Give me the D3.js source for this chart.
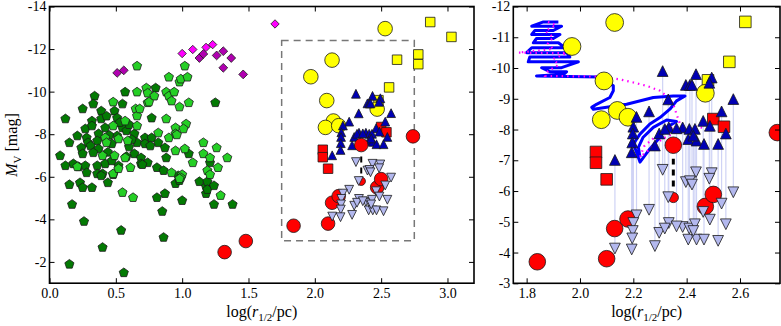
<!DOCTYPE html>
<html>
<head>
<meta charset="utf-8">
<script src="https://cdn.jsdelivr.net/npm/d3@7"></script>
<style>
  body { margin: 0; background: #fff; }
  svg text { font-family: "Liberation Serif", "DejaVu Serif", serif; }
</style>
</head>
<body>
<div id="chart"></div>
<script>
// ---- data: [log r_1/2, M_V] ----
const greenDark = [
  [0.12,-8.72],[0.34,-9.79],[0.57,-9.98],[0.80,-10.17],[0.55,-9.42],[0.25,-9.19],[0.39,-9.09],[0.49,-9.09],
  [0.32,-8.62],[0.39,-8.72],[0.51,-8.76],[0.77,-8.76],[0.27,-8.25],[0.32,-8.39],[0.42,-8.30],[0.55,-8.30],
  [0.21,-7.92],[0.28,-7.83],[0.37,-8.02],[0.51,-7.92],[0.58,-8.16],[0.64,-8.02],[0.72,-7.83],[0.77,-7.83],
  [0.82,-7.60],[0.15,-7.60],[0.29,-7.60],[0.36,-7.69],[0.66,-7.60],[0.72,-7.55],[0.76,-7.45],[0.87,-7.36],
  [0.08,-6.99],[0.24,-7.36],[0.31,-7.45],[0.37,-7.31],[0.64,-7.08],[0.69,-6.89],[0.25,-7.08],[0.33,-7.13],
  [0.12,-6.52],[0.18,-6.61],[0.22,-6.47],[0.27,-6.52],[0.36,-6.52],[0.42,-6.61],[0.52,-6.52],[0.69,-6.61],
  [0.74,-6.66],[0.81,-6.43],[0.86,-6.29],[0.28,-6.19],[0.36,-6.14],[0.40,-6.14],[0.97,-6.05],[0.15,-5.63],
  [0.23,-5.72],[0.25,-5.49],[0.32,-5.49],[0.44,-5.72],[0.87,-5.21],[0.39,-6.05],[0.48,-6.10],[0.70,-6.57],
  [1.13,-5.77],[0.81,-5.02],[0.95,-5.68],[0.98,-5.82],[1.00,-4.88],[1.18,-5.54],[1.19,-5.77],[1.18,-5.21],
  [1.19,-5.40],[1.24,-5.58],[0.17,-4.70],[0.85,-4.37],[1.24,-4.70],[1.38,-4.70],[0.26,-3.90],[0.54,-3.48],
  [0.86,-3.15],[0.40,-2.68],[0.15,-1.89],[0.56,-1.49],[1.25,-9.48],[0.88,-6.89],[1.05,-7.08],[1.21,-6.66],
  [0.33,-9.42],[0.45,-7.95],[0.47,-7.55],[0.60,-7.40],[0.44,-7.15],[0.58,-6.95],[0.62,-7.75],[0.53,-8.55],
  [0.60,-8.45],[0.43,-8.85],[0.47,-6.75]
];
const greenLight = [
  [0.66,-11.20],[0.73,-10.17],[0.66,-9.98],[0.74,-9.93],[0.79,-9.79],[0.88,-9.98],[0.90,-9.79],[0.94,-9.98],
  [0.90,-10.68],[0.98,-10.45],[0.99,-10.59],[1.04,-10.68],[1.02,-11.20],[1.05,-9.48],[0.98,-9.28],[0.74,-9.48],
  [0.65,-9.19],[0.66,-8.86],[0.66,-8.39],[0.88,-8.72],[1.03,-8.48],[0.95,-8.30],[1.01,-8.25],[0.82,-8.06],
  [0.90,-7.83],[1.16,-7.60],[1.26,-7.36],[1.02,-7.31],[1.16,-7.08],[1.34,-6.89],[1.21,-6.89],[1.08,-6.66],
  [0.48,-8.39],[0.48,-9.51],[0.68,-9.19],[0.75,-9.51],[0.92,-9.56],[0.57,-8.62],[0.95,-8.02],[0.42,-7.83],
  [0.43,-7.60],[0.52,-7.78],[0.59,-7.69],[0.95,-7.22],[0.40,-6.99],[0.49,-6.99],[0.57,-6.89],[0.61,-6.43],
  [0.92,-6.19],[0.48,-6.14],[0.55,-5.26],[0.21,-6.47],[0.52,-6.38],[1.00,-6.10],[1.19,-6.29],[1.21,-6.10],
  [1.27,-6.43],[0.63,-5.02],[0.99,-5.96],[1.29,-5.12],[0.96,-7.97],[0.98,-5.91]
];
const magentaBright = [[1.00,-11.79],[1.08,-11.98],[1.18,-12.08],[1.23,-12.21],[1.70,-13.18]];
const magentaDark = [[0.51,-10.88],[0.56,-11.00],[1.13,-11.58],[1.16,-11.77],[1.26,-11.70],
  [1.31,-11.90],[1.31,-11.12],[1.37,-11.58],[1.46,-10.81]];
const yellowCircles = [[2.53,-12.96],[2.13,-11.48],[1.97,-10.70],[2.09,-9.58],[2.47,-9.18],
  [2.14,-8.62],[2.08,-8.32],[2.18,-8.40]];
const yellowSquares = [[2.87,-13.27],[3.03,-12.57],[2.78,-11.75],[2.78,-11.29],[2.62,-11.50],
  [2.56,-10.20],[2.48,-9.60]];
const redSquares = [[2.06,-7.27],[2.06,-6.92],[2.10,-6.38],[2.50,-8.34],[2.54,-8.09]];
const redCircles = [[1.32,-2.46],[1.48,-2.98],[1.84,-3.70],[2.10,-3.80],[2.13,-4.78],[2.18,-5.09],
  [2.47,-5.50],[2.50,-5.89],[2.35,-7.49],[2.74,-7.90]];
const redSmall = [[2.35,-5.79]];
// [log r, M_V bright (up triangle), M_V faint (down triangle)]
const trianglePairs = [
  [2.310,-9.90,-6.69],[2.435,-9.80,-6.61],[2.397,-9.45,-6.29],[2.412,-9.45,-6.32],[2.420,-9.45,-6.21],
  [2.494,-9.69,-6.58],[2.485,-9.52,-6.40],[2.331,-8.98,-5.80],[2.575,-8.99,-5.96],[2.259,-8.59,-5.39],
  [2.531,-8.59,-5.59],[2.212,-8.41,-5.21],[2.462,-8.28,-5.32],[2.200,-8.09,-4.96],[2.487,-8.12,-5.07],
  [2.198,-7.87,-4.70],[2.297,-7.87,-4.64],[2.333,-8.07,-4.96],[2.318,-8.02,-4.78],[2.385,-8.07,-4.83],
  [2.410,-8.02,-4.78],[2.431,-8.02,-4.92],[2.547,-7.87,-4.92],[2.196,-7.58,-4.46],[2.406,-7.69,-4.42],
  [2.437,-7.64,-4.42],[2.465,-7.53,-4.42],[2.518,-7.53,-4.38],[2.281,-7.48,-4.21],[2.194,-7.26,-4.10],
  [2.131,-7.01,-4.13],[2.425,-7.80,-4.70],[2.362,-8.04,-4.85]
];
const blueTrack = [
  [1.919,-11.50],[1.863,-11.50],[1.819,-11.36],[1.931,-11.36],[1.900,-11.22],[1.831,-11.22],
  [1.819,-11.09],[1.925,-11.09],[1.900,-10.96],[1.837,-10.96],[1.825,-10.82],[1.919,-10.82],
  [1.944,-10.66],[1.819,-10.66],[1.800,-10.50],[1.950,-10.50],[1.962,-10.36],[1.812,-10.36],
  [1.806,-10.20],[1.994,-10.20],[1.931,-10.01],[1.856,-10.01],[1.887,-9.88],[1.950,-9.88],
  [1.940,-9.80],[1.837,-9.74],[2.075,-9.71],[2.125,-9.42],[2.125,-9.26],[2.112,-9.04],
  [2.062,-8.82],[2.044,-8.72],[2.050,-8.66],[2.175,-8.82],[2.275,-9.04],[2.350,-9.09],
  [2.394,-9.09],[2.362,-8.93],[2.337,-8.66],[2.300,-8.39],[2.262,-8.18],[2.225,-7.85],
  [2.200,-7.53],[2.212,-7.26],[2.225,-6.94],[2.262,-7.37],[2.300,-7.75],[2.325,-8.07],
  [2.362,-8.26],[2.325,-8.31],[2.275,-8.07],[2.237,-7.75],[2.219,-7.42],[2.225,-7.10]
];
const pinkTrack = [
  [1.880,-11.50],[1.910,-11.40],[1.870,-11.20],[1.900,-11.00],[1.880,-10.80],[1.900,-10.62],
  [1.769,-10.50],[1.950,-10.48],[1.900,-10.30],[1.920,-10.10],[1.880,-9.90],[1.870,-9.74],
  [2.075,-9.72],[2.150,-9.63],[2.200,-9.53],[2.250,-9.42],[2.300,-9.26],[2.331,-9.04],
  [2.350,-8.82],[2.362,-8.50],[2.375,-8.18],[2.330,-8.00],[2.280,-7.75],[2.240,-7.45],
  [2.225,-7.10],[2.260,-7.35],[2.310,-7.70],[2.370,-7.95],[2.440,-8.10],[2.480,-8.00]
];
const blackSegment = [[2.35,-6.15],[2.35,-7.05]];
const zoomBox = { x: [1.75, 2.75], m: [-3, -12.4] };

const leftXTicks = [0, 0.5, 1, 1.5, 2, 2.5, 3];
const leftYTicks = [-14, -12, -10, -8, -6, -4, -2];
const rightXTicks = [1.8, 2.0, 2.2, 2.4, 2.6];
const rightYTicks = [-12, -11, -10, -9, -8, -7, -6, -5, -4, -3];

// ---- symbols ----
const pentagon = { draw(ctx, size) {
  const r = Math.sqrt(size / 2.3776);
  for (let i = 0; i < 5; i++) {
    const a = -Math.PI / 2 + i * 2 * Math.PI / 5;
    i ? ctx.lineTo(r * Math.cos(a), r * Math.sin(a)) : ctx.moveTo(r * Math.cos(a), r * Math.sin(a));
  }
  ctx.closePath();
}};
const triUp = { draw(ctx, size) {
  const h = Math.sqrt(size * 2) / 2;
  ctx.moveTo(0, -h); ctx.lineTo(h, h); ctx.lineTo(-h, h); ctx.closePath();
}};
const triDown = { draw(ctx, size) {
  const h = Math.sqrt(size * 2) / 2;
  ctx.moveTo(0, h); ctx.lineTo(h, -h); ctx.lineTo(-h, -h); ctx.closePath();
}};
const diamond = { draw(ctx, size) {
  const h = Math.sqrt(size / 2);
  ctx.moveTo(0, -h); ctx.lineTo(h, 0); ctx.lineTo(0, h); ctx.lineTo(-h, 0); ctx.closePath();
}};

const W = 781, H = 326;
const svg = d3.select('#chart').append('svg').attr('width', W).attr('height', H);

function plot(g, data, x, y, sym, area, fill, stroke = '#1a1a1a', sw = 0.8) {
  g.append('g').selectAll('path').data(data).join('path')
    .attr('transform', (d) => `translate(${x(d[0])},${y(d[1])})`)
    .attr('d', d3.symbol().type(sym).size(area))
    .attr('fill', fill).attr('stroke', stroke).attr('stroke-width', sw);
}

function axes(p, x, y) {
  const style = (s) => {
    s.select('.domain').remove();
    s.attr('font-family', '"Liberation Serif", "DejaVu Serif", serif').attr('font-size', 14);
    s.selectAll('line').attr('stroke', '#000').attr('stroke-width', 1);
    s.selectAll('text').attr('fill', '#000');
  };
  svg.append('g').attr('transform', `translate(0,${p.bottom})`)
    .call(d3.axisBottom(x).tickValues(p.xt).tickSizeInner(-5).tickSizeOuter(0).tickPadding(4.5)
      .tickFormat((d) => d.toFixed(1))).call(style);
  svg.append('g').attr('transform', `translate(0,${p.top})`)
    .call(d3.axisTop(x).tickValues(p.xt).tickSizeInner(-5).tickSizeOuter(0).tickFormat('')).call(style);
  svg.append('g').attr('transform', `translate(${p.left},0)`)
    .call(d3.axisLeft(y).tickValues(p.yt).tickSizeInner(-5).tickSizeOuter(0).tickPadding(3)
      .tickFormat((d) => String(d))).call(style);
  svg.append('g').attr('transform', `translate(${p.right},0)`)
    .call(d3.axisRight(y).tickValues(p.yt).tickSizeInner(-5).tickSizeOuter(0).tickFormat('')).call(style);
  svg.append('rect').attr('x', p.left).attr('y', p.top)
    .attr('width', p.right - p.left).attr('height', p.bottom - p.top)
    .attr('fill', 'none').attr('stroke', '#000').attr('stroke-width', 1.6);

  const xl = svg.append('text').attr('x', (p.left + p.right) / 2).attr('y', 317)
    .attr('text-anchor', 'middle').attr('font-size', 16);
  xl.append('tspan').text('log(');
  xl.append('tspan').attr('font-style', 'italic').text('r');
  xl.append('tspan').attr('dy', 4).attr('font-size', 11).text('1/2');
  xl.append('tspan').attr('dy', -4).text('/pc)');
}

function panel(p) {
  const x = d3.scaleLinear().domain(p.xd).range([p.left, p.right]);
  const y = d3.scaleLinear().domain(p.yd).range([p.bottom, p.top]);
  svg.append('clipPath').attr('id', 'clip-' + p.id).append('rect')
    .attr('x', p.left).attr('y', p.top).attr('width', p.right - p.left).attr('height', p.bottom - p.top);
  const g = svg.append('g').attr('clip-path', `url(#clip-${p.id})`);
  const k = p.k;

  if (p.id === 'right') {
    g.append('g').selectAll('line').data(trianglePairs).join('line')
      .attr('x1', (d) => x(d[0])).attr('x2', (d) => x(d[0]))
      .attr('y1', (d) => y(d[1])).attr('y2', (d) => y(d[2]))
      .attr('stroke', '#cfd3f5').attr('stroke-width', 1.2);
    const line = d3.line().x((d) => x(d[0])).y((d) => y(d[1]));
    g.append('path').attr('d', line(blueTrack)).attr('fill', 'none')
      .attr('stroke', '#0000ff').attr('stroke-width', 3).attr('stroke-linejoin', 'round');
    g.append('path').attr('d', line(pinkTrack)).attr('fill', 'none')
      .attr('stroke', '#ff00ff').attr('stroke-width', 2.2).attr('stroke-dasharray', '1.5,4');
  } else {
    plot(g, greenDark, x, y, pentagon, 2.3776 * 4.8 * 4.8, '#037a03');
    plot(g, greenLight, x, y, pentagon, 2.3776 * 4.8 * 4.8, '#25cf25');
    plot(g, magentaDark, x, y, diamond, 2 * 4.4 * 4.4, '#b000b0');
    plot(g, magentaBright, x, y, diamond, 2 * 4.2 * 4.2, '#ff00ff');
    g.append('rect')
      .attr('x', x(zoomBox.x[0])).attr('y', y(zoomBox.m[1]))
      .attr('width', x(zoomBox.x[1]) - x(zoomBox.x[0])).attr('height', y(zoomBox.m[0]) - y(zoomBox.m[1]))
      .attr('fill', 'none').attr('stroke', '#777').attr('stroke-width', 1.5).attr('stroke-dasharray', '7,5');
  }

  g.append('line')
    .attr('x1', x(blackSegment[0][0])).attr('x2', x(blackSegment[1][0]))
    .attr('y1', y(blackSegment[0][1])).attr('y2', y(blackSegment[1][1]))
    .attr('stroke', '#000').attr('stroke-width', p.id === 'right' ? 3 : 2).attr('stroke-dasharray', '6,5');

  plot(g, yellowSquares, x, y, d3.symbolSquare, Math.pow(9.5 * k, 2), '#ffff00');
  plot(g, yellowCircles, x, y, d3.symbolCircle, Math.PI * Math.pow(7.3 * k, 2), '#ffff00');
  plot(g, redSquares, x, y, d3.symbolSquare, Math.pow(9.5 * k, 2), '#ff0000');
  plot(g, trianglePairs.map((d) => [d[0], d[1]]), x, y, triUp, Math.pow(8.8 * k, 2) / 2, '#0000b4');
  plot(g, redCircles, x, y, d3.symbolCircle, Math.PI * Math.pow(6.8 * k, 2), '#ff0000');
  plot(g, redSmall, x, y, d3.symbolCircle, Math.PI * Math.pow(4.2 * k, 2), '#ff0000');
  plot(g, trianglePairs.map((d) => [d[0], d[2]]), x, y, triDown, Math.pow(8.8 * k, 2) / 2, '#b3b8ee');

  axes(p, x, y);
}

panel({ id: 'left', left: 49.5, right: 474, top: 6.5, bottom: 283.2, xd: [0, 3.2], yd: [-1, -14],
  xt: leftXTicks, yt: leftYTicks, k: 1 });
panel({ id: 'right', left: 513.3, right: 780, top: 6.5, bottom: 283.3, xd: [1.75, 2.75], yd: [-3, -12],
  xt: rightXTicks, yt: rightYTicks, k: 1.22 });

const yl = svg.append('text').attr('transform', 'translate(17,145) rotate(-90)')
  .attr('text-anchor', 'middle').attr('font-size', 16);
yl.append('tspan').attr('font-style', 'italic').text('M');
yl.append('tspan').attr('dy', 4).attr('font-size', 11).text('V');
yl.append('tspan').attr('dy', -4).text(' [mag]');
</script>
</body>
</html>
